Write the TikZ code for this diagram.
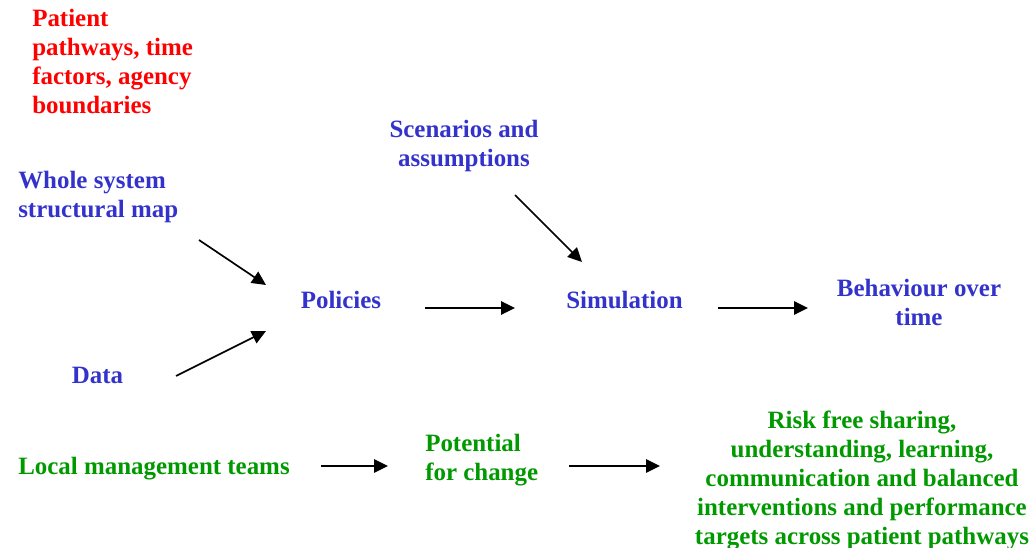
\documentclass[tikz,border=0pt]{standalone}
\usepackage{fontspec}
\setmainfont{Liberation Serif}
\usetikzlibrary{arrows.meta}
\definecolor{rottext}{RGB}{255,0,0}
\definecolor{blautext}{RGB}{51,51,204}
\definecolor{gruentext}{RGB}{0,153,0}
\begin{document}
\begin{tikzpicture}[x=0.75pt,y=-0.75pt]
    \tikzset{lbl/.style={inner sep=0pt, font=\fontsize{18.7}{21.75}\selectfont\bfseries},
        rotlbl/.style={lbl, text=rottext},
        blaulbl/.style={lbl, text=blautext},
        gruenlbl/.style={lbl, text=gruentext},
        pfeil/.style={line width=1.25pt, -{Triangle[length=10.5pt,width=10pt]}}}
    \useasboundingbox (0,0) rectangle (1034,548);
    %Eingaben
    \node[rotlbl, anchor=west, align=left] (pfade) at (32,62)
        {Patient\\pathways, time\\factors, agency\\boundaries};
    \node[blaulbl, anchor=west, align=left] (karte) at (18,197) {Whole system\\structural map};
    \node[blaulbl, align=center] (szen) at (464,146) {Scenarios and\\assumptions};
    \node[blaulbl] (daten) at (97.5,375) {Data};

    %Modell
    \node[blaulbl] (pol) at (341,300) {Policies};
    \node[blaulbl] (sim) at (624.5,300) {Simulation};
    \node[blaulbl, align=center] (verh) at (919,302) {Behaviour over\\time};

    %Wirkung
    \node[gruenlbl, anchor=west] (teams) at (18,469) {Local management teams};
    \node[gruenlbl, anchor=west, align=left] (pot) at (425,460) {Potential\\for change};
    \node[gruenlbl, align=center] (risk) at (862,480)
        {Risk free sharing,\\understanding, learning,\\communication and balanced\\interventions and performance\\targets across patient pathways};

    %Pfeile
    \coordinate (k1) at (199,240);   \coordinate (k2) at (266,285);
    \coordinate (d1) at (176,376);   \coordinate (d2) at (266,331);
    \coordinate (p1) at (425,308);   \coordinate (p2) at (515,308);
    \coordinate (s1) at (515,195);   \coordinate (s2) at (582,262);
    \coordinate (v1) at (718,308);   \coordinate (v2) at (808,308);
    \coordinate (t1) at (321,466);   \coordinate (t2) at (388,466);
    \coordinate (r1) at (569,466);   \coordinate (r2) at (660,466);
    \draw[pfeil] (k1) -- (k2);
    \draw[pfeil] (d1) -- (d2);
    \draw[pfeil] (p1) -- (p2);
    \draw[pfeil] (s1) -- (s2);
    \draw[pfeil] (v1) -- (v2);
    \draw[pfeil] (t1) -- (t2);
    \draw[pfeil] (r1) -- (r2);

\end{tikzpicture}
\end{document}
